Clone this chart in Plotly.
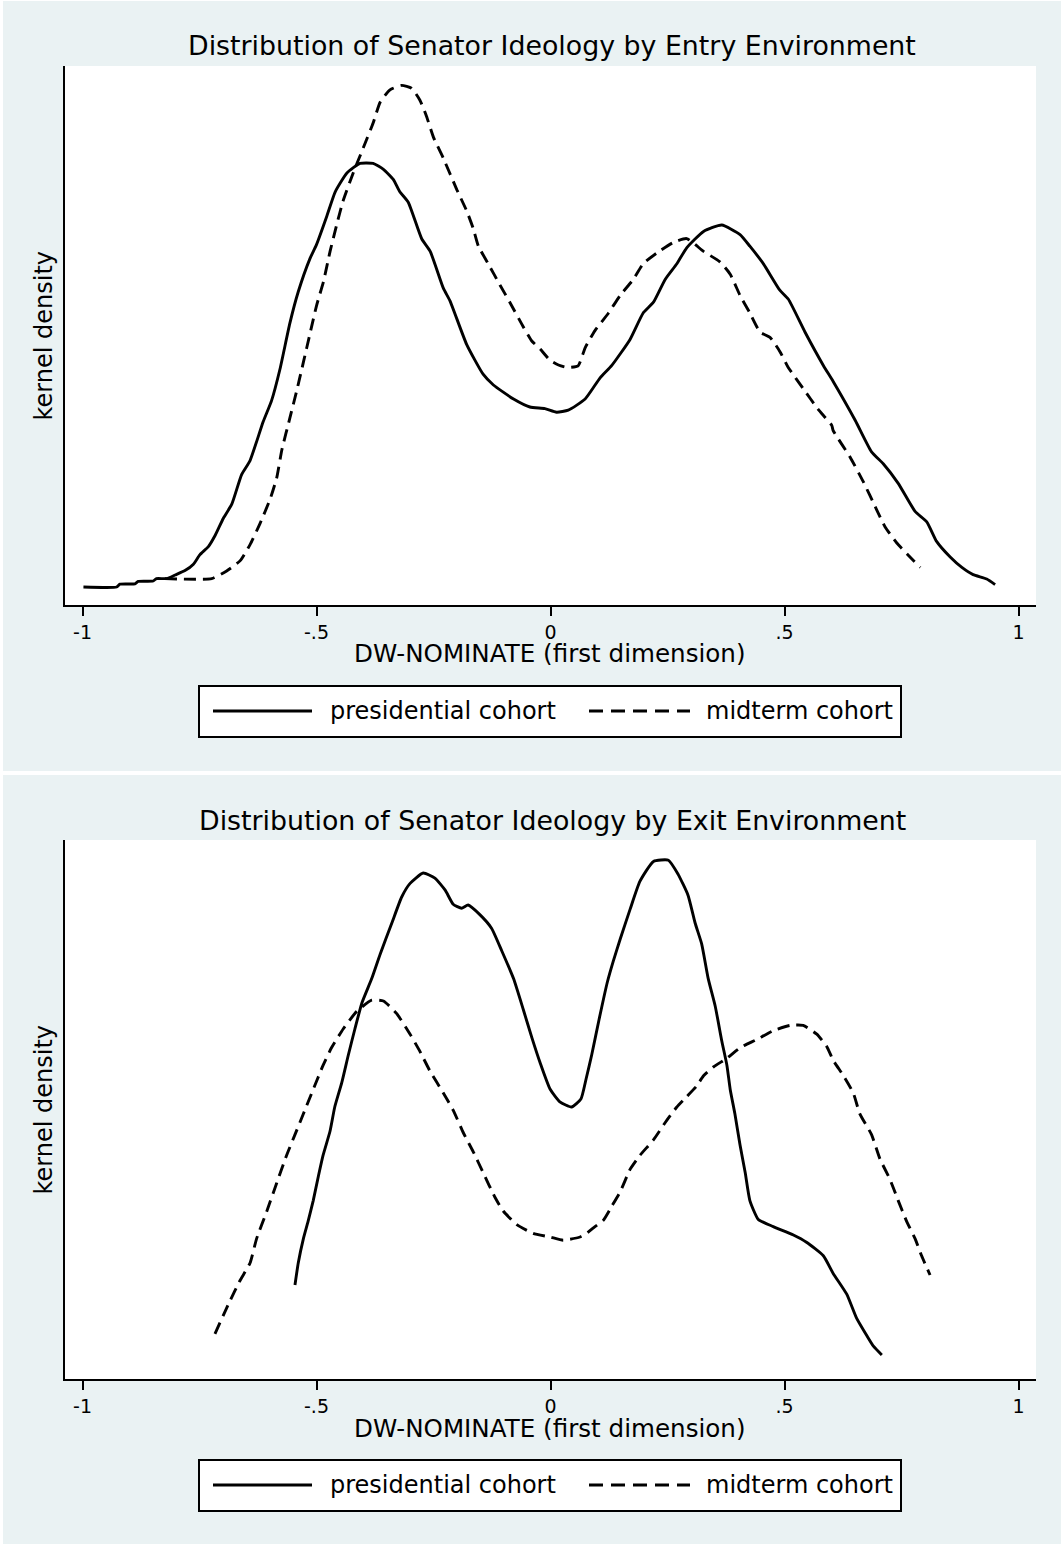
import plotly.graph_objects as go

# ---------------- data (DW-NOMINATE first dimension vs kernel density) ----------------
tick_vals = [-1, -0.5, 0, 0.5, 1]
tick_text = ["-1", "-.5", "0", ".5", "1"]

series_names = ["presidential cohort", "midterm cohort"]
titles = ["Distribution of Senator Ideology by Entry Environment",
          "Distribution of Senator Ideology by Exit Environment"]
x_title = "DW-NOMINATE (first dimension)"
y_title = "kernel density"

entry_pres_x = [-0.998, -0.927, -0.92, -0.888, -0.881, -0.849, -0.842, -0.82, -0.802, -0.781,
                -0.763, -0.749, -0.731, -0.717, -0.699, -0.681, -0.66, -0.642, -0.614, -0.596,
                -0.578, -0.557, -0.539, -0.514, -0.5, -0.478, -0.46, -0.435, -0.407, -0.379,
                -0.357, -0.336, -0.322, -0.304, -0.275, -0.257, -0.229, -0.215, -0.179, -0.144,
                -0.122, -0.079, -0.044, -0.012, 0.013, 0.038, 0.074, 0.106, 0.131, 0.17,
                0.198, 0.22, 0.245, 0.27, 0.291, 0.327, 0.366, 0.405, 0.426, 0.455,
                0.49, 0.508, 0.544, 0.583, 0.604, 0.651, 0.686, 0.711, 0.743, 0.779,
                0.804, 0.825, 0.854, 0.879, 0.903, 0.932, 0.95]
entry_pres_y = [0.045, 0.045, 0.052, 0.053, 0.059, 0.06, 0.066, 0.066, 0.075, 0.086,
                0.102, 0.126, 0.146, 0.173, 0.217, 0.252, 0.326, 0.361, 0.458, 0.511,
                0.59, 0.704, 0.783, 0.866, 0.901, 0.972, 1.033, 1.08, 1.104, 1.104,
                1.089, 1.064, 1.033, 1.007, 0.915, 0.884, 0.792, 0.761, 0.651, 0.577,
                0.55, 0.515, 0.495, 0.491, 0.482, 0.487, 0.515, 0.568, 0.599, 0.664,
                0.73, 0.757, 0.814, 0.853, 0.893, 0.934, 0.95, 0.926, 0.897, 0.853,
                0.787, 0.765, 0.682, 0.599, 0.559, 0.462, 0.383, 0.353, 0.304, 0.234,
                0.208, 0.159, 0.12, 0.094, 0.076, 0.065, 0.051]

entry_mid_x = [-0.824, -0.724, -0.692, -0.663, -0.642, -0.621, -0.599, -0.585, -0.574, -0.557,
               -0.542, -0.528, -0.514, -0.5, -0.485, -0.471, -0.457, -0.443, -0.421, -0.4,
               -0.379, -0.364, -0.343, -0.318, -0.297, -0.279, -0.265, -0.25, -0.229, -0.2,
               -0.179, -0.165, -0.154, -0.133, -0.108, -0.087, -0.058, -0.04, -0.022, -0.001,
               0.017, 0.035, 0.059, 0.074, 0.095, 0.124, 0.149, 0.177, 0.198, 0.227,
               0.262, 0.291, 0.327, 0.362, 0.384, 0.405, 0.426, 0.448, 0.469, 0.49,
               0.508, 0.54, 0.572, 0.601, 0.604, 0.64, 0.668, 0.697, 0.715, 0.74,
               0.765, 0.79]
entry_mid_y = [0.066, 0.066, 0.085, 0.111, 0.151, 0.203, 0.265, 0.318, 0.388, 0.467,
               0.537, 0.607, 0.678, 0.748, 0.809, 0.884, 0.95, 1.011, 1.082, 1.143,
               1.205, 1.257, 1.288, 1.299, 1.292, 1.262, 1.222, 1.169, 1.117, 1.038,
               0.985, 0.941, 0.897, 0.853, 0.8, 0.757, 0.695, 0.66, 0.64, 0.612,
               0.6, 0.594, 0.598, 0.643, 0.686, 0.73, 0.774, 0.814, 0.853, 0.88,
               0.906, 0.916, 0.884, 0.858, 0.827, 0.774, 0.73, 0.682, 0.669, 0.634,
               0.594, 0.541, 0.489, 0.449, 0.436, 0.37, 0.309, 0.238, 0.195, 0.155,
               0.124, 0.094]

exit_pres_x = [-0.546, -0.539, -0.528, -0.518, -0.507, -0.496, -0.486, -0.471, -0.461, -0.446,
               -0.432, -0.418, -0.403, -0.382, -0.364, -0.339, -0.318, -0.3, -0.272, -0.247,
               -0.225, -0.208, -0.19, -0.176, -0.151, -0.126, -0.104, -0.079, -0.058, -0.04,
               -0.022, -0.001, 0.02, 0.045, 0.065, 0.076, 0.088, 0.104, 0.121, 0.134,
               0.149, 0.17, 0.191, 0.22, 0.252, 0.273, 0.294, 0.309, 0.323, 0.337,
               0.352, 0.366, 0.377, 0.384, 0.394, 0.405, 0.416, 0.426, 0.444, 0.476,
               0.519, 0.547, 0.583, 0.604, 0.633, 0.654, 0.676, 0.69, 0.708]
exit_pres_y = [0.235, 0.29, 0.351, 0.394, 0.446, 0.507, 0.559, 0.62, 0.68, 0.741,
               0.81, 0.875, 0.94, 1.001, 1.062, 1.14, 1.205, 1.239, 1.265, 1.252,
               1.222, 1.187, 1.177, 1.185, 1.161, 1.127, 1.07, 1.001, 0.923, 0.854,
               0.79, 0.725, 0.693, 0.68, 0.70, 0.75, 0.81, 0.90, 0.99, 1.044,
               1.10, 1.174, 1.244, 1.294, 1.297, 1.261, 1.209, 1.14, 1.088, 1.001,
               0.932, 0.845, 0.784, 0.724, 0.663, 0.585, 0.516, 0.446, 0.399, 0.381,
               0.36, 0.342, 0.308, 0.264, 0.212, 0.152, 0.108, 0.082, 0.06]

exit_mid_x = [-0.717, -0.685, -0.663, -0.642, -0.628, -0.606, -0.585, -0.564, -0.546, -0.528,
              -0.507, -0.486, -0.468, -0.443, -0.414, -0.382, -0.357, -0.329, -0.3, -0.279,
              -0.258, -0.229, -0.208, -0.186, -0.165, -0.144, -0.119, -0.101, -0.072, -0.037,
              -0.001, 0.027, 0.063, 0.077, 0.095, 0.113, 0.131, 0.149, 0.17, 0.191,
              0.22, 0.248, 0.27, 0.291, 0.312, 0.327, 0.348, 0.377, 0.405, 0.441,
              0.476, 0.512, 0.54, 0.569, 0.59, 0.604, 0.626, 0.647, 0.661, 0.686,
              0.704, 0.725, 0.743, 0.761, 0.779, 0.793, 0.811]
exit_mid_y = [0.113, 0.195, 0.247, 0.29, 0.351, 0.42, 0.49, 0.559, 0.611, 0.663,
              0.724, 0.784, 0.828, 0.875, 0.919, 0.947, 0.945, 0.914, 0.862, 0.819,
              0.771, 0.715, 0.672, 0.615, 0.568, 0.516, 0.455, 0.42, 0.386, 0.364,
              0.355, 0.347, 0.355, 0.364, 0.381, 0.397, 0.432, 0.468, 0.524, 0.559,
              0.598, 0.646, 0.68, 0.706, 0.732, 0.758, 0.78, 0.802, 0.828, 0.849,
              0.871, 0.884, 0.884, 0.862, 0.832, 0.797, 0.758, 0.715, 0.663, 0.611,
              0.55, 0.5, 0.446, 0.394, 0.351, 0.308, 0.26]

# ---------------- layout helpers (pixel -> paper) ----------------
W, H = 1061, 1544
FONT = "DejaVu Sans"
BG = "#EAF2F3"


def fx(p):
    return p / W


def fy(p):
    return 1 - p / H


DATA_DASH = "12px,7px"
LEG_DASH = "14px,8px"
LW = 2.9

fig = go.Figure()

panels = [
    dict(xa="x", ya="y", px=entry_pres_x, py=entry_pres_y, mx=entry_mid_x, my=entry_mid_y, off=0),
    dict(xa="x2", ya="y2", px=exit_pres_x, py=exit_pres_y, mx=exit_mid_x, my=exit_mid_y, off=774),
]

for p in panels:
    fig.add_trace(go.Scatter(x=p["px"], y=p["py"], mode="lines", name=series_names[0],
                             line=dict(color="black", width=LW, shape="spline", smoothing=0.5),
                             xaxis=p["xa"], yaxis=p["ya"], showlegend=False))
    fig.add_trace(go.Scatter(x=p["mx"], y=p["my"], mode="lines", name=series_names[1],
                             line=dict(color="black", width=LW, dash=DATA_DASH,
                                       shape="spline", smoothing=0.5),
                             xaxis=p["xa"], yaxis=p["ya"], showlegend=False))

xr = [-1.0374, 1.0374]
yr = [0, 1.3475]

xcommon = dict(range=xr, domain=[fx(65), fx(1036)], showline=True, linecolor="black", linewidth=2,
               ticks="outside", ticklen=9, tickwidth=2, tickcolor="black",
               tickvals=tick_vals, ticktext=tick_text, showgrid=False, zeroline=False,
               tickfont=dict(family=FONT, size=19, color="black"), ticklabelstandoff=0,
               fixedrange=True)
ycommon = dict(range=yr, showline=True, linecolor="black", linewidth=2, ticks="",
               showticklabels=False, showgrid=False, zeroline=False, fixedrange=True)

shapes = [
    # white margins of the graph region
    dict(type="rect", xref="paper", yref="paper", x0=0, x1=fx(3), y0=0, y1=1,
         fillcolor="white", line=dict(width=0), layer="below"),
    dict(type="rect", xref="paper", yref="paper", x0=0, x1=1, y0=fy(1), y1=1,
         fillcolor="white", line=dict(width=0), layer="below"),
    dict(type="rect", xref="paper", yref="paper", x0=0, x1=1, y0=fy(775), y1=fy(771),
         fillcolor="white", line=dict(width=0), layer="below"),
]
annotations = []

for i, p in enumerate(panels):
    o = p["off"]
    # legend box
    shapes.append(dict(type="rect", xref="paper", yref="paper", x0=fx(199), x1=fx(901),
                       y0=fy(737 + o), y1=fy(686 + o), fillcolor="white",
                       line=dict(color="black", width=2)))
    shapes.append(dict(type="line", xref="paper", yref="paper", x0=fx(213), x1=fx(312),
                       y0=fy(711 + o), y1=fy(711 + o), line=dict(color="black", width=LW)))
    shapes.append(dict(type="line", xref="paper", yref="paper", x0=fx(589), x1=fx(690),
                       y0=fy(711 + o), y1=fy(711 + o),
                       line=dict(color="black", width=LW, dash=LEG_DASH)))
    annotations.append(dict(text=series_names[0], xref="paper", yref="paper", x=fx(328),
                            y=fy(711 + o), xanchor="left", yanchor="middle", showarrow=False,
                            font=dict(family=FONT, size=24, color="black")))
    annotations.append(dict(text=series_names[1], xref="paper", yref="paper", x=fx(704),
                            y=fy(711 + o), xanchor="left", yanchor="middle", showarrow=False,
                            font=dict(family=FONT, size=24, color="black")))
    # titles
    annotations.append(dict(text=titles[i], xref="paper", yref="paper", x=fx(552),
                            y=fy(46 + o), xanchor="center", yanchor="middle", showarrow=False,
                            font=dict(family=FONT, size=26.8, color="black")))
    annotations.append(dict(text=x_title, xref="paper", yref="paper", x=fx(550),
                            y=fy(654 + o), xanchor="center", yanchor="middle", showarrow=False,
                            font=dict(family=FONT, size=24.6, color="black")))
    annotations.append(dict(text=y_title, xref="paper", yref="paper", x=fx(43),
                            y=fy(335.5 + o), xanchor="center", yanchor="middle", showarrow=False,
                            textangle=-90, font=dict(family=FONT, size=24, color="black")))

fig.update_layout(
    width=W, height=H, margin=dict(l=0, r=0, t=0, b=0),
    paper_bgcolor=BG, plot_bgcolor="white", showlegend=False,
    xaxis=dict(**xcommon, anchor="y"),
    yaxis=dict(**ycommon, domain=[fy(605), fy(66)], anchor="x"),
    xaxis2=dict(**xcommon, anchor="y2"),
    yaxis2=dict(**ycommon, domain=[fy(1379), fy(840)], anchor="x2"),
    shapes=shapes, annotations=annotations,
    font=dict(family=FONT, color="black"),
)

fig.write_html("out.html", config={"displayModeBar": False},
               post_script="document.body.style.margin='0';document.body.style.padding='0';"
                           "document.body.style.overflow='hidden';")
